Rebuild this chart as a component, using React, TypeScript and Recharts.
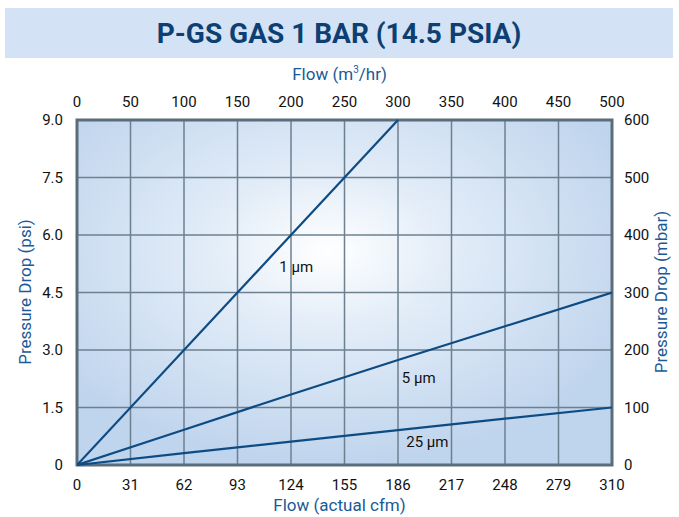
import React from 'react';
import { LineChart, Line, XAxis, YAxis, CartesianGrid, ReferenceArea, ReferenceDot } from 'recharts';

const cfmTicks = [0, 31, 62, 93, 124, 155, 186, 217, 248, 279, 310];
const m3Ticks = [0, 50, 100, 150, 200, 250, 300, 350, 400, 450, 500];
const psiTicks = [0, 1.5, 3.0, 4.5, 6.0, 7.5, 9.0];
const mbarTicks = [0, 100, 200, 300, 400, 500, 600];

const micron1 = [
  { cfm: 0, psi: 0 },
  { cfm: 186, psi: 9.0 },
];
const micron5 = [
  { cfm: 0, psi: 0 },
  { cfm: 62, psi: 0.92 },
  { cfm: 124, psi: 1.84 },
  { cfm: 186, psi: 2.74 },
  { cfm: 248, psi: 3.62 },
  { cfm: 310, psi: 4.5 },
];
const micron25 = [
  { cfm: 0, psi: 0 },
  { cfm: 62, psi: 0.31 },
  { cfm: 124, psi: 0.61 },
  { cfm: 186, psi: 0.91 },
  { cfm: 248, psi: 1.21 },
  { cfm: 310, psi: 1.5 },
];
// metric scale extent, only used to bind the top / right axes
const metricRange = [
  { m3: 0, mbar: 0 },
  { m3: 500, mbar: 600 },
];

const lineLabels = [
  { text: '1 µm', cfm: 127, psi: 5.17 },
  { text: '5 µm', cfm: 198, psi: 2.28 },
  { text: '25 µm', cfm: 203, psi: 0.6 },
];

const font = 'Roboto, sans-serif';
const blue = '#1b5a96';
const lineColor = '#0d4b82';
const tickStyle = { fill: '#111', fontSize: 15, fontFamily: font };

export default function App() {
  return (
    <div style={{ position: 'absolute', left: 0, top: 0, width: 679, height: 517, background: '#fff', fontFamily: font }}>
      <svg width={0} height={0} style={{ position: 'absolute' }}>
        <defs>
          <radialGradient id="plotBg" cx="0.47" cy="0.38" r="0.62">
            <stop offset="0%" stopColor="#ffffff" />
            <stop offset="35%" stopColor="#e3edf8" />
            <stop offset="100%" stopColor="#bfd4ed" />
          </radialGradient>
        </defs>
      </svg>
      <div
        style={{
          position: 'absolute', left: 5, top: 8, width: 668, height: 50, background: '#d3e2f4',
          display: 'flex', alignItems: 'center', justifyContent: 'center',
          color: '#0d3f73', fontWeight: 'bold', fontSize: 28,
        }}
      >
        P-GS GAS 1 BAR (14.5 PSIA)
      </div>
      <div style={{ position: 'absolute', left: 0, width: 679, top: 64, textAlign: 'center', color: blue, fontSize: 17 }}>
        Flow (m<sup style={{ fontSize: 10 }}>3</sup>/hr)
      </div>
      <div style={{ position: 'absolute', left: 0, width: 679, top: 495, textAlign: 'center', color: blue, fontSize: 17 }}>
        Flow (actual cfm)
      </div>
      <div
        style={{
          position: 'absolute', left: 25, top: 292, transform: 'translate(-50%, -50%) rotate(-90deg)',
          color: blue, fontSize: 17, whiteSpace: 'nowrap',
        }}
      >
        Pressure Drop (psi)
      </div>
      <div
        style={{
          position: 'absolute', left: 661, top: 292, transform: 'translate(-50%, -50%) rotate(-90deg)',
          color: blue, fontSize: 17, whiteSpace: 'nowrap',
        }}
      >
        Pressure Drop (mbar)
      </div>
      <div style={{ position: 'absolute', left: 0, top: 0 }}>
        <LineChart width={679} height={517} margin={{ top: 90, right: 27, bottom: 22, left: 37 }}>
          <XAxis
            xAxisId="cfm" dataKey="cfm" type="number" domain={[0, 310]} ticks={cfmTicks}
            orientation="bottom" height={30} axisLine={false} tickLine={false} tick={tickStyle}
            tickMargin={8} allowDataOverflow interval={0}
          />
          <XAxis
            xAxisId="m3" dataKey="m3" type="number" domain={[0, 500]} ticks={m3Ticks}
            orientation="top" height={30} axisLine={false} tickLine={false} tick={tickStyle}
            tickMargin={7} allowDataOverflow interval={0}
          />
          <YAxis
            yAxisId="psi" type="number" domain={[0, 9]} ticks={psiTicks} width={40}
            axisLine={false} tickLine={false} tick={tickStyle} tickMargin={8} interval={0}
            tickFormatter={(v: number) => (v === 0 ? '0' : v.toFixed(1))}
          />
          <YAxis
            yAxisId="mbar" type="number" domain={[0, 600]} ticks={mbarTicks} width={40}
            orientation="right" axisLine={false} tickLine={false} tick={{ ...tickStyle, textAnchor: 'start' }}
            tickMargin={6} interval={0}
          />
          <CartesianGrid
            xAxisId="cfm" yAxisId="psi" stroke="#6c8090" strokeWidth={1.5}
            fill="url(#plotBg)" fillOpacity={1}
          />
          <ReferenceArea
            xAxisId="cfm" yAxisId="psi" x1={0} x2={310} y1={0} y2={9}
            fill="none" fillOpacity={0} stroke="#5b6c7a" strokeWidth={3}
          />
          <Line xAxisId="m3" yAxisId="mbar" data={metricRange} dataKey="mbar" stroke="none" dot={false} activeDot={false} isAnimationActive={false} />
          <Line xAxisId="cfm" yAxisId="psi" data={micron1} dataKey="psi" stroke={lineColor} strokeWidth={2.2} dot={false} isAnimationActive={false} />
          <Line xAxisId="cfm" yAxisId="psi" data={micron5} dataKey="psi" stroke={lineColor} strokeWidth={2.2} dot={false} isAnimationActive={false} />
          <Line xAxisId="cfm" yAxisId="psi" data={micron25} dataKey="psi" stroke={lineColor} strokeWidth={2.2} dot={false} isAnimationActive={false} />
          {lineLabels.map((l) => (
            <ReferenceDot
              key={l.text} xAxisId="cfm" yAxisId="psi" x={l.cfm} y={l.psi} r={0} stroke="none" fill="none"
              label={{ value: l.text, position: 'center', fill: '#111', fontSize: 15, fontFamily: font }}
            />
          ))}
        </LineChart>
      </div>
    </div>
  );
}
